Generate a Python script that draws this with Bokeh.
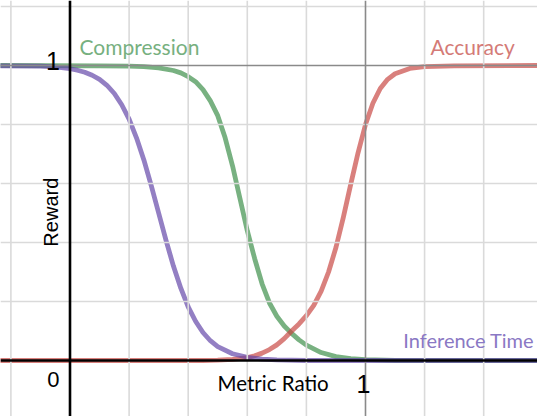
from bokeh.plotting import figure
from bokeh.models import Range1d, Span, Label
from bokeh.embed import file_html
from bokeh.resources import INLINE
import math

# ---- data ----
x_compression = [-0.25, 0.1, 0.2, 0.25, 0.3, 0.35, 0.375, 0.4, 0.425, 0.45, 0.475, 0.5, 0.525, 0.55,
                 0.575, 0.6, 0.625, 0.65, 0.675, 0.7, 0.725, 0.75, 0.775, 0.8, 0.85, 0.9, 0.95, 1.0, 1.1, 1.6]
y_compression = [1.0, 0.999, 0.998, 0.996, 0.992, 0.983, 0.975, 0.962, 0.945, 0.918, 0.88, 0.83, 0.755, 0.66,
                 0.55, 0.44, 0.345, 0.26, 0.195, 0.15, 0.117, 0.092, 0.07, 0.052, 0.027, 0.013, 0.006, 0.003, 0.0, 0.0]

x_accuracy = [-0.25, 0.45, 0.5, 0.55, 0.6, 0.625, 0.65, 0.675, 0.7, 0.725, 0.75, 0.775, 0.8, 0.825, 0.85,
              0.875, 0.9, 0.925, 0.95, 0.975, 1.0, 1.025, 1.05, 1.075, 1.1, 1.15, 1.2, 1.3, 1.6]
y_accuracy = [0.0, 0.0, 0.001, 0.004, 0.01, 0.016, 0.025, 0.037, 0.053, 0.074, 0.1, 0.124, 0.152, 0.187, 0.235,
              0.3, 0.383, 0.485, 0.597, 0.705, 0.8, 0.872, 0.922, 0.953, 0.972, 0.99, 0.996, 0.999, 1.0]

x_inference = [-0.25, -0.1, -0.05, 0.0, 0.025, 0.05, 0.075, 0.1, 0.125, 0.15, 0.175, 0.2, 0.225, 0.25, 0.275,
               0.3, 0.325, 0.35, 0.375, 0.4, 0.425, 0.45, 0.475, 0.5, 0.55, 0.6, 0.65, 0.7, 0.8, 1.6]
y_inference = [0.999, 0.998, 0.995, 0.989, 0.984, 0.977, 0.967, 0.953, 0.933, 0.905, 0.867, 0.818, 0.755, 0.68, 0.593,
               0.5, 0.407, 0.32, 0.245, 0.182, 0.133, 0.095, 0.067, 0.047, 0.023, 0.011, 0.005, 0.002, 0.0, 0.0]

grid_x = [-0.2, 0.2, 0.4, 0.6, 0.8, 1.2, 1.4]
grid_y = [0.2, 0.4, 0.6, 0.8, 1.2]
major_x = [1.0]
major_y = [1.0]
axis_x = [0.0]
axis_y = [0.0]

tick_labels = ["0", "1", "1"]

GREEN = "#388c46"
RED = "#c74440"
PURPLE = "#6042a6"

p = figure(width=537, height=416, output_backend="svg", toolbar_location=None,
           x_range=Range1d(-0.2352, 1.5821), y_range=Range1d(-0.1898, 1.2203),
           x_axis_location=None, y_axis_location=None, min_border=0)
p.outline_line_color = None
p.xgrid.visible = False
p.ygrid.visible = False
p.background_fill_color = "white"

for gx in grid_x:
    p.add_layout(Span(location=gx, dimension="height", line_color="#dadada", line_width=1.6))
for gy in grid_y:
    p.add_layout(Span(location=gy, dimension="width", line_color="#dadada", line_width=1.6))
for gx in major_x:
    p.add_layout(Span(location=gx, dimension="height", line_color="#8a8a8a", line_width=1.6))
for gy in major_y:
    p.add_layout(Span(location=gy, dimension="width", line_color="#8a8a8a", line_width=1.6))
for gx in axis_x:
    p.add_layout(Span(location=gx, dimension="height", line_color="black", line_width=2.6))
for gy in axis_y:
    p.add_layout(Span(location=gy, dimension="width", line_color="black", line_width=2.6))

p.line(x_compression, y_compression, line_color=GREEN, line_alpha=0.68, line_width=4.8, line_join="round")
p.line(x_accuracy, y_accuracy, line_color=RED, line_alpha=0.68, line_width=4.8, line_join="round")
p.line(x_inference, y_inference, line_color=PURPLE, line_alpha=0.68, line_width=4.8, line_join="round")

p.add_layout(Label(x=0.032, y=1.064, text="Compression", text_font="Lato", text_font_size="21px",
                   text_color="#77b07f", text_baseline="alphabetic"))
p.add_layout(Label(x=1.22, y=1.064, text="Accuracy", text_font="Lato", text_font_size="21px",
                   text_color="#d47b77", text_baseline="alphabetic"))
p.add_layout(Label(x=1.128, y=0.071, text="Inference Time", text_font="Lato", text_font_size="20px",
                   text_color="#8a78c4", text_baseline="alphabetic"))
p.add_layout(Label(x=0.499, y=-0.075, text="Metric Ratio", text_font="Lato", text_font_size="20.5px",
                   text_color="black", text_baseline="alphabetic"))
p.add_layout(Label(x=-0.063, y=0.386, text="Reward", text_font="Liberation Sans", text_font_size="20px",
                   text_color="black", text_baseline="alphabetic", angle=math.pi / 2))

p.add_layout(Label(x=-0.056, y=-0.066, text=tick_labels[0], text_font="Liberation Sans", text_font_size="22px",
                   text_color="black", text_align="center", text_baseline="middle"))
p.add_layout(Label(x=-0.0575, y=1.0136, text=tick_labels[1], text_font="Liberation Sans", text_font_size="25px",
                   text_color="black", text_align="center", text_baseline="middle"))
p.add_layout(Label(x=0.993, y=-0.078, text=tick_labels[2], text_font="Liberation Sans", text_font_size="25px",
                   text_color="black", text_align="center", text_baseline="middle"))

open("out.html", "w").write(file_html(p, INLINE))
